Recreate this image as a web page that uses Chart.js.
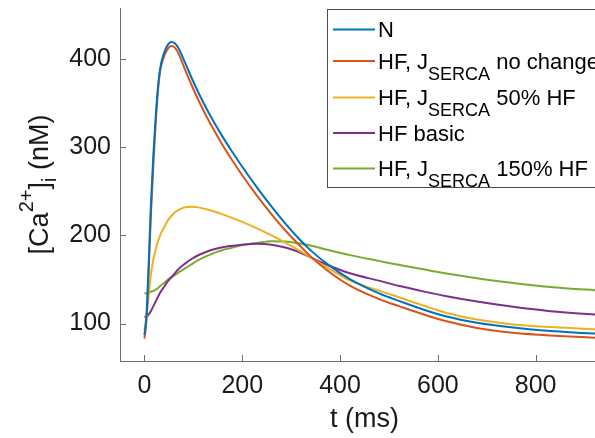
<!DOCTYPE html>
<html>
<head>
<meta charset="utf-8">
<script src="https://cdn.jsdelivr.net/npm/chart.js@4"></script>
<style>
  html, body { margin: 0; padding: 0; background: #fff; overflow: hidden; }
  #wrap { width: 595px; height: 438px; overflow: hidden; }
  canvas { display: block; }
</style>
</head>
<body>
<div id="wrap"><canvas id="caChart" width="640" height="438"></canvas></div>
<script>
// time samples (ms)
var times = [0, 4, 8, 13, 18, 22, 27, 32, 40, 48, 55, 62, 70, 83, 97, 110, 127, 144, 160, 175,
             200, 230, 260, 290, 315, 340, 372, 420, 481, 522, 570, 618, 680, 754, 830, 921, 1000];

// [Ca2+]i in nM for each condition
var caN        = [87, 108, 158, 232, 289, 326, 364, 389, 407, 416.5, 419.5, 418, 412, 396, 378, 362.4, 343.7, 326.7, 311.8, 298.6,
                  277.9, 254.5, 232.6, 212.2, 196.7, 183, 168.3, 150.5, 134, 125.5, 116, 108, 101, 95.5, 91.5, 88.6, 87];
var caHF       = [83, 103, 150, 221, 278, 318, 360, 386, 403, 412, 415, 413, 406, 388, 369.8, 353.9, 334.9, 317.6, 302.4, 289,
                  268.3, 245.2, 223.9, 204.4, 189.9, 176, 161, 143, 127.5, 119.5, 110.5, 102.5, 95, 89.5, 86.3, 84, 82.8];
var caHF50     = [92, 108, 128, 155, 172, 182, 192, 200, 209, 217, 222, 226, 229, 232, 232.5, 231.8, 229.6, 226.8, 223.8, 220.8,
                  215.3, 208, 200, 191.3, 183.3, 175, 164, 149, 137, 129.5, 120.5, 112, 104.5, 99, 96, 93.5, 92];
var caHFbasic  = [107.5, 108, 110, 114, 119.5, 124, 129.5, 135, 141.5, 148, 152.5, 157, 162, 168, 173.5, 177.5, 181.5, 184.5, 186.5, 188,
                  189.5, 190.5, 189.5, 186, 181.5, 175, 167, 157, 148.4, 142.5, 136.5, 131, 125, 119, 114, 110.2, 107.5];
var caHF150    = [134, 134.3, 135, 136, 137, 138, 140, 142.5, 146, 150, 152.5, 155, 158, 162.5, 167.5, 172, 176.5, 180.5, 183.5, 185.5,
                  189, 191.5, 193.5, 193, 191, 188.5, 184, 177.6, 170.8, 166.3, 161.5, 156.8, 151.5, 146, 141.5, 137.8, 135];

var xTicks = [0, 200, 400, 600, 800];
var yTicks = [100, 200, 300, 400];

var FONT = "'Liberation Sans', Arial, Helvetica, sans-serif";

// legend rows: pieces of text, sub = subscript
var legendRows = [
  { color: '#0072BD', parts: [{ t: 'N' }] },
  { color: '#D95319', parts: [{ t: 'HF, J' }, { t: 'SERCA', sub: true }, { t: ' no change' }] },
  { color: '#EDB120', parts: [{ t: 'HF, J' }, { t: 'SERCA', sub: true }, { t: ' 50% HF' }] },
  { color: '#7E2F8E', parts: [{ t: 'HF basic' }] },
  { color: '#77AC30', parts: [{ t: 'HF, J' }, { t: 'SERCA', sub: true }, { t: ' 150% HF' }] }
];

function series(vals) {
  return times.map(function (t, i) { return { x: t, y: vals[i] }; });
}

function makeSet(vals, color) {
  return {
    data: series(vals),
    borderColor: color,
    backgroundColor: color,
    borderWidth: 2,
    pointRadius: 0,
    fill: false,
    cubicInterpolationMode: 'monotone'
  };
}

// draws a run of text pieces with super/subscripts
function drawRich(ctx, parts, x, y, o) {
  var w = 0;
  parts.forEach(function (p) {
    ctx.font = ((p.sub || p.sup) ? o.small : o.size) + 'px ' + FONT;
    p.w = ctx.measureText(p.t).width;
    w += p.w;
  });
  var cx = o.center ? x - w / 2 : x;
  ctx.textAlign = 'left';
  ctx.textBaseline = 'alphabetic';
  parts.forEach(function (p) {
    ctx.font = ((p.sub || p.sup) ? o.small : o.size) + 'px ' + FONT;
    var dy = p.sub ? o.subDy : (p.sup ? o.supDy : 0);
    ctx.fillText(p.t, cx, y + dy);
    cx += p.w;
  });
  return w;
}

var decorations = {
  id: 'decorations',
  afterDraw: function (chart) {
    var ctx = chart.ctx;
    var xs = chart.scales.x, ys = chart.scales.y;
    var area = chart.chartArea;
    ctx.save();

    // inward tick marks
    ctx.strokeStyle = '#6e6e6e';
    ctx.lineWidth = 1;
    ctx.beginPath();
    xTicks.forEach(function (v) {
      var px = Math.round(xs.getPixelForValue(v)) + 0.5;
      ctx.moveTo(px, area.bottom);
      ctx.lineTo(px, area.bottom - 6);
    });
    yTicks.forEach(function (v) {
      var py = Math.round(ys.getPixelForValue(v)) + 0.5;
      ctx.moveTo(area.left, py);
      ctx.lineTo(area.left + 6, py);
    });
    ctx.stroke();

    ctx.fillStyle = '#1a1a1a';
    // x title
    drawRich(ctx, [{ t: 't (ms)' }], (area.left + area.right) / 2, 427, { size: 27, center: true });

    // y title, rotated
    ctx.save();
    ctx.translate(48, (area.top + area.bottom) / 2);
    ctx.rotate(-Math.PI / 2);
    drawRich(ctx, [{ t: '[Ca' }, { t: '2+', sup: true }, { t: ']' }, { t: 'i', sub: true }, { t: ' (nM)' }], 0, 0,
             { size: 27, small: 20, supDy: -15, subDy: 8, center: true });
    ctx.restore();

    // legend box
    var bx = 327.5, by = 9.5, bw = 300, bh = 178;
    ctx.fillStyle = '#ffffff';
    ctx.fillRect(bx, by, bw, bh);
    ctx.strokeStyle = '#4d4d4d';
    ctx.lineWidth = 1;
    ctx.strokeRect(bx, by, bw, bh);

    var rowY = [29.5, 61, 97.5, 133, 168.5];
    legendRows.forEach(function (row, i) {
      var y = rowY[i];
      ctx.strokeStyle = row.color;
      ctx.lineWidth = 2;
      ctx.beginPath();
      ctx.moveTo(333, y);
      ctx.lineTo(375, y);
      ctx.stroke();
      ctx.fillStyle = '#000000';
      drawRich(ctx, row.parts, 378, y + 7.5, { size: 22, small: 18, subDy: 11 });
    });

    ctx.restore();
  }
};

var ctx = document.getElementById('caChart').getContext('2d');
var chart = new Chart(ctx, {
  type: 'line',
  data: {
    datasets: [
      makeSet(caN, '#0072BD'),
      makeSet(caHF, '#D95319'),
      makeSet(caHF50, '#EDB120'),
      makeSet(caHFbasic, '#7E2F8E'),
      makeSet(caHF150, '#77AC30')
    ]
  },
  options: {
    responsive: false,
    animation: false,
    parsing: false,
    layout: { padding: { top: 8, right: 31, left: 0, bottom: 0 } },
    plugins: {
      legend: { display: false },
      tooltip: { enabled: false }
    },
    scales: {
      x: {
        type: 'linear',
        min: -50,
        max: 950,
        afterBuildTicks: function (scale) {
          scale.ticks = xTicks.map(function (v) { return { value: v }; });
        },
        afterFit: function (scale) {
          scale.height = 77;
          scale.paddingLeft = 0;
          scale.paddingRight = 0;
        },
        grid: { display: false, drawTicks: false },
        border: { display: true, color: '#6e6e6e', width: 1 },
        ticks: {
          padding: 10,
          color: '#1a1a1a',
          font: { family: FONT, size: 25 },
          maxRotation: 0
        }
      },
      y: {
        type: 'linear',
        min: 57.5,
        max: 458,
        afterBuildTicks: function (scale) {
          scale.ticks = yTicks.map(function (v) { return { value: v }; });
        },
        afterFit: function (scale) {
          scale.width = 120;
          scale.paddingTop = 0;
          scale.paddingBottom = 0;
        },
        grid: { display: false, drawTicks: false },
        border: { display: true, color: '#6e6e6e', width: 1 },
        ticks: {
          padding: 9,
          color: '#1a1a1a',
          font: { family: FONT, size: 25 }
        }
      }
    }
  },
  plugins: [decorations]
});
</script>
</body>
</html>
